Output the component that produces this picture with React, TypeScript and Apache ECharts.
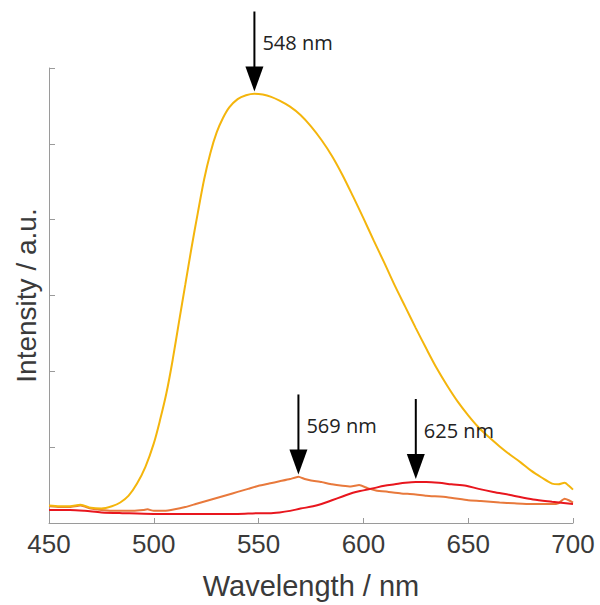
import React, { useEffect, useRef } from "react";
import * as echarts from "echarts";

// ---- data ----
const yellowWl = [450, 455, 460, 465, 470, 475, 480, 484, 488, 492, 496, 500, 503, 506, 509, 512, 515, 518, 521, 524, 527, 530, 533, 536, 540, 544, 548, 552, 556, 560, 565, 570, 575, 580, 585, 590, 595, 600, 605, 610, 615, 620, 625, 630, 635, 640, 645, 650, 655, 660, 665, 670, 675, 680, 685, 690, 693, 696, 698, 700];
const yellowInt = [0.23, 0.22, 0.22, 0.24, 0.2, 0.19, 0.22, 0.27, 0.36, 0.52, 0.74, 1.05, 1.36, 1.71, 2.15, 2.65, 3.14, 3.63, 4.09, 4.53, 4.88, 5.15, 5.34, 5.48, 5.59, 5.64, 5.66, 5.65, 5.62, 5.57, 5.49, 5.38, 5.23, 5.05, 4.84, 4.59, 4.31, 4.02, 3.72, 3.43, 3.13, 2.85, 2.57, 2.3, 2.04, 1.81, 1.6, 1.42, 1.26, 1.13, 1.01, 0.9, 0.8, 0.69, 0.6, 0.52, 0.51, 0.53, 0.49, 0.44];

const orangeWl = [450, 455, 460, 465, 470, 475, 480, 485, 490, 495, 497, 500, 505, 510, 515, 520, 525, 530, 535, 540, 545, 550, 555, 560, 565, 569, 572, 575, 580, 585, 590, 594, 598, 602, 606, 612, 618, 624, 630, 640, 650, 656, 665, 672, 680, 690, 693, 696, 698, 700];
const orangeInt = [0.22, 0.21, 0.21, 0.23, 0.19, 0.17, 0.16, 0.16, 0.16, 0.17, 0.18, 0.16, 0.16, 0.18, 0.21, 0.25, 0.29, 0.33, 0.37, 0.41, 0.45, 0.49, 0.52, 0.55, 0.58, 0.61, 0.58, 0.56, 0.54, 0.51, 0.49, 0.48, 0.5, 0.46, 0.43, 0.41, 0.39, 0.38, 0.36, 0.34, 0.3, 0.29, 0.27, 0.26, 0.25, 0.25, 0.26, 0.32, 0.3, 0.27];

const redWl = [450, 460, 467, 475, 485, 500, 520, 540, 550, 555, 560, 565, 570, 576, 580, 585, 590, 595, 600, 605, 610, 615, 620, 625, 630, 636, 642, 649, 655, 662, 670, 681, 690, 700];
const redInt = [0.17, 0.17, 0.16, 0.14, 0.13, 0.12, 0.12, 0.12, 0.13, 0.13, 0.14, 0.16, 0.19, 0.22, 0.25, 0.3, 0.35, 0.4, 0.43, 0.46, 0.49, 0.51, 0.53, 0.54, 0.54, 0.53, 0.51, 0.49, 0.45, 0.41, 0.37, 0.31, 0.28, 0.25];

const peakWl = [548, 569, 625];
const peakTip = [5.69, 0.64, 0.58];
const peakLabels = ["548 nm", "569 nm", "625 nm"];

const xTicks = [450, 500, 550, 600, 650, 700];

const pairs = (xs: number[], ys: number[]) => xs.map((x, i) => [x, ys[i]]);

export default function App() {
  const ref = useRef<HTMLDivElement>(null);

  useEffect(() => {
    document.body.style.margin = "0";
    if (!ref.current) return;
    const chart = echarts.init(ref.current, null, { renderer: "svg" });
    const axisColor = "#9a9a9a";
    const textColor = "#3a3a3a";
    const font = "Liberation Sans, Arial, sans-serif";

    chart.setOption({
      animation: false,
      backgroundColor: "#ffffff",
      grid: { left: 49, right: 27, top: 68, bottom: 75 },
      xAxis: {
        type: "value",
        min: xTicks[0],
        max: xTicks[xTicks.length - 1],
        interval: 50,
        name: "Wavelength / nm",
        nameLocation: "middle",
        nameGap: 48,
        nameTextStyle: { fontSize: 29, color: textColor, fontFamily: font },
        axisLine: { lineStyle: { color: axisColor, width: 1 } },
        axisTick: { inside: true, length: 5, lineStyle: { color: axisColor } },
        axisLabel: { fontSize: 26, color: textColor, fontFamily: font, margin: 8 },
        splitLine: { show: false },
      },
      yAxis: {
        type: "value",
        min: 0,
        max: 6,
        interval: 1,
        name: "Intensity / a.u.",
        nameLocation: "middle",
        nameGap: 9,
        nameRotate: 90,
        nameTextStyle: { fontSize: 28, color: textColor, fontFamily: font },
        axisLine: { show: true, lineStyle: { color: axisColor, width: 1 } },
        axisTick: { show: true, inside: true, length: 6, lineStyle: { color: axisColor } },
        axisLabel: { show: false },
        splitLine: { show: false },
      },
      series: [
        {
          type: "line",
          data: pairs(orangeWl, orangeInt),
          showSymbol: false,
          smooth: 0.15,
          lineStyle: { color: "#E8793C", width: 2 },
        },
        {
          type: "line",
          data: pairs(redWl, redInt),
          showSymbol: false,
          smooth: 0.3,
          lineStyle: { color: "#E8161E", width: 2 },
        },
        {
          type: "line",
          data: pairs(yellowWl, yellowInt),
          showSymbol: false,
          smooth: 0.3,
          lineStyle: { color: "#F4B50C", width: 2 },
        },
      ],
    });

    const elements: any[] = [];
    peakWl.forEach((wl, i) => {
      const p = chart.convertToPixel({ xAxisIndex: 0, yAxisIndex: 0 }, [wl, peakTip[i]]) as number[];
      const x = p[0];
      const y = p[1];
      elements.push({
        type: "line",
        shape: { x1: x, y1: y - 80, x2: x, y2: y - 22 },
        style: { stroke: "#000", lineWidth: 2 },
        z: 100,
      });
      elements.push({
        type: "polygon",
        shape: { points: [[x - 9, y - 25], [x + 9, y - 25], [x, y]] },
        style: { fill: "#000" },
        z: 100,
      });
      elements.push({
        type: "text",
        x: x + 8,
        y: y - 49,
        style: {
          text: peakLabels[i],
          fontSize: 20,
          fontFamily: "Open Sans, DejaVu Sans, sans-serif",
          fill: "#222",
          verticalAlign: "middle",
          align: "left",
        },
        z: 100,
      });
    });
    chart.setOption({ graphic: { elements } });

    return () => chart.dispose();
  }, []);

  return <div ref={ref} style={{ width: 600, height: 605 }} />;
}
